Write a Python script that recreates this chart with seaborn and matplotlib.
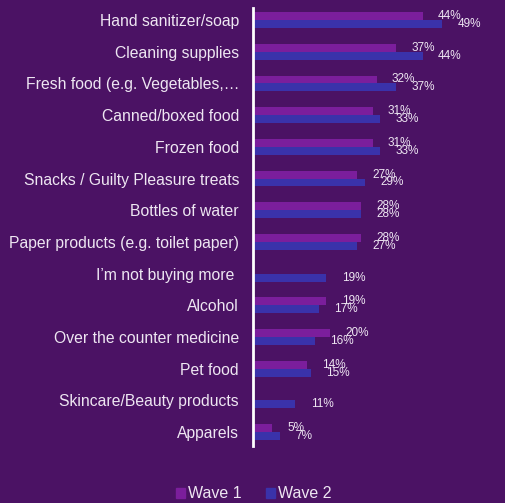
import matplotlib
matplotlib.use("Agg")
import matplotlib.pyplot as plt
import seaborn as sns
import pandas as pd
import numpy as np

categories = [
    "Hand sanitizer/soap",
    "Cleaning supplies",
    "Fresh food (e.g. Vegetables,\u2026",
    "Canned/boxed food",
    "Frozen food",
    "Snacks / Guilty Pleasure treats",
    "Bottles of water",
    "Paper products (e.g. toilet paper)",
    "I\u2019m not buying more ",
    "Alcohol",
    "Over the counter medicine",
    "Pet food",
    "Skincare/Beauty products",
    "Apparels",
]
wave1 = [44, 37, 32, 31, 31, 27, 28, 28, np.nan, 19, 20, 14, np.nan, 5]
wave2 = [49, 44, 37, 33, 33, 29, 28, 27, 19, 17, 16, 15, 11, 7]
series = ["Wave 1", "Wave 2"]

BG = "#4B1264"
TXT = "#EEE6F2"
C1 = "#7B1E9C"
C2 = "#3A32AA"

df = pd.DataFrame({
    "cat": categories * 2,
    "val": wave1 + wave2,
    "wave": [series[0]] * len(categories) + [series[1]] * len(categories),
})

sns.set_style("white")
plt.rcParams["font.family"] = ["Liberation Sans", "DejaVu Sans"]

fig = plt.figure(figsize=(5.05, 5.03), dpi=100, facecolor=BG)
ax = fig.add_axes([253 / 505, 1 - 446 / 503, (495 - 253) / 505, (446 - 8) / 503])
ax.set_facecolor(BG)

sns.barplot(data=df, y="cat", x="val", hue="wave", order=categories,
            hue_order=series, palette=[C1, C2], width=0.5, orient="h",
            ax=ax, saturation=1, linewidth=0, legend=True)

for cont in ax.containers:
    labs = []
    for b in cont:
        w = b.get_width()
        labs.append("" if (w is None or np.isnan(w)) else f"{int(round(w))}%")
    ax.bar_label(cont, labels=labs, padding=11, fontsize=8.5, color=TXT)

ax.set_xlim(0, 62.7)
ax.set_ylim(13.44, -0.38)
ax.set_xlabel("")
ax.set_ylabel("")
ax.set_xticks([])
ax.tick_params(axis="y", length=0, pad=10, labelsize=11.3, labelcolor=TXT)
for s in ["top", "right", "bottom"]:
    ax.spines[s].set_visible(False)
ax.spines["left"].set_color("white")
ax.spines["left"].set_linewidth(2)

leg = ax.get_legend()
if leg is not None:
    leg.remove()
handles = [plt.Rectangle((0, 0), 1, 1, color=C1), plt.Rectangle((0, 0), 1, 1, color=C2)]
fig.legend(handles, series, loc="center", bbox_to_anchor=(0.503, 0.018), ncol=2,
           frameon=False, fontsize=11.5, labelcolor=TXT, handlelength=0.55,
           handleheight=0.6, handletextpad=0.2, columnspacing=1.5)

fig.savefig("out.png", dpi=100, facecolor=BG)
